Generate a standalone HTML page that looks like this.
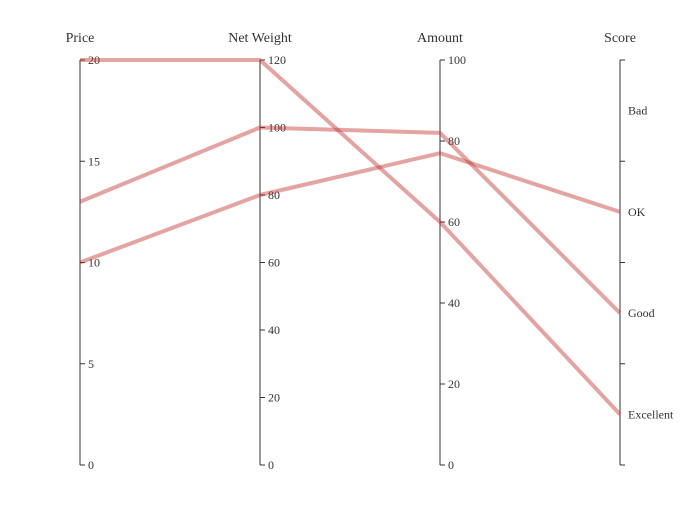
<!DOCTYPE html>
<html><head><meta charset="utf-8"><style>
body{margin:0;background:#fff}
svg{display:block;font-family:"Liberation Serif",serif}
</style></head><body>
<svg id="chart" width="700" height="525"></svg>
<script>
const dimNames=["Price","Net Weight","Amount","Score"];
const dimMax=[20,120,100];
const priceTicks=[0,5,10,15,20];
const weightTicks=[0,20,40,60,80,100,120];
const amountTicks=[0,20,40,60,80,100];
const scoreCats=["Excellent","Good","OK","Bad"];
const priceVals=[20,13,10];
const weightVals=[120,100,80];
const amountVals=[60,82,77];
const scoreVals=["Excellent","Good","OK"];

const svgEl=document.getElementById('chart');
const NS='http://www.w3.org/2000/svg';
const axX=[80,260,440,620], axTop=60, axBot=465;
function el(t,a){const e=document.createElementNS(NS,t);for(const k in a)e.setAttribute(k,a[k]);return e;}
function yLin(v,max){return axBot-(v/max)*(axBot-axTop);}
function yCat(c){const i=scoreCats.indexOf(c);const s=(axBot-axTop)/scoreCats.length;return axBot-s*(i+0.5);}
const tickSets=[priceTicks,weightTicks,amountTicks];
for(let d=0;d<4;d++){
  const x=axX[d];
  const g=el('g',{});
  
  
  g.appendChild(el('line',{x1:x,y1:axTop,x2:x,y2:axBot,stroke:'#333','stroke-width':1}));
  const t=el('text',{x:x,y:42,'text-anchor':'middle','font-size':14,fill:'#333'});
  t.textContent=dimNames[d];
  
  
  g.appendChild(t);
  if(d<3){
    tickSets[d].forEach(v=>{const y=yLin(v,dimMax[d]);
      g.appendChild(el('line',{x1:x,y1:y,x2:x+5,y2:y,stroke:'#333'}));
      const l=el('text',{x:x+8,y:y+4,'font-size':12,fill:'#333'});l.textContent=v;
      
      
      g.appendChild(l);});
  } else {
    const s=(axBot-axTop)/scoreCats.length;
    for(let i=0;i<=scoreCats.length;i++){const y=axBot-s*i;g.appendChild(el('line',{x1:x,y1:y,x2:x+5,y2:y,stroke:'#333'}));}
    scoreCats.forEach(c=>{const l=el('text',{x:x+8,y:yCat(c)+4,'font-size':12,fill:'#333'});l.textContent=c;
      
      
      g.appendChild(l);});
  }
  svgEl.appendChild(g);
}
for(let i=0;i<priceVals.length;i++){
  const pts=[[axX[0],yLin(priceVals[i],dimMax[0])],[axX[1],yLin(weightVals[i],dimMax[1])],[axX[2],yLin(amountVals[i],dimMax[2])],[axX[3],yCat(scoreVals[i])]];
  const p=el('polyline',{points:pts.map(q=>q.join(',')).join(' '),fill:'none',stroke:'#c23531','stroke-opacity':0.45,'stroke-width':4,'stroke-linejoin':'round'});
  
  
  svgEl.appendChild(p);
}
</script>
</body></html>
